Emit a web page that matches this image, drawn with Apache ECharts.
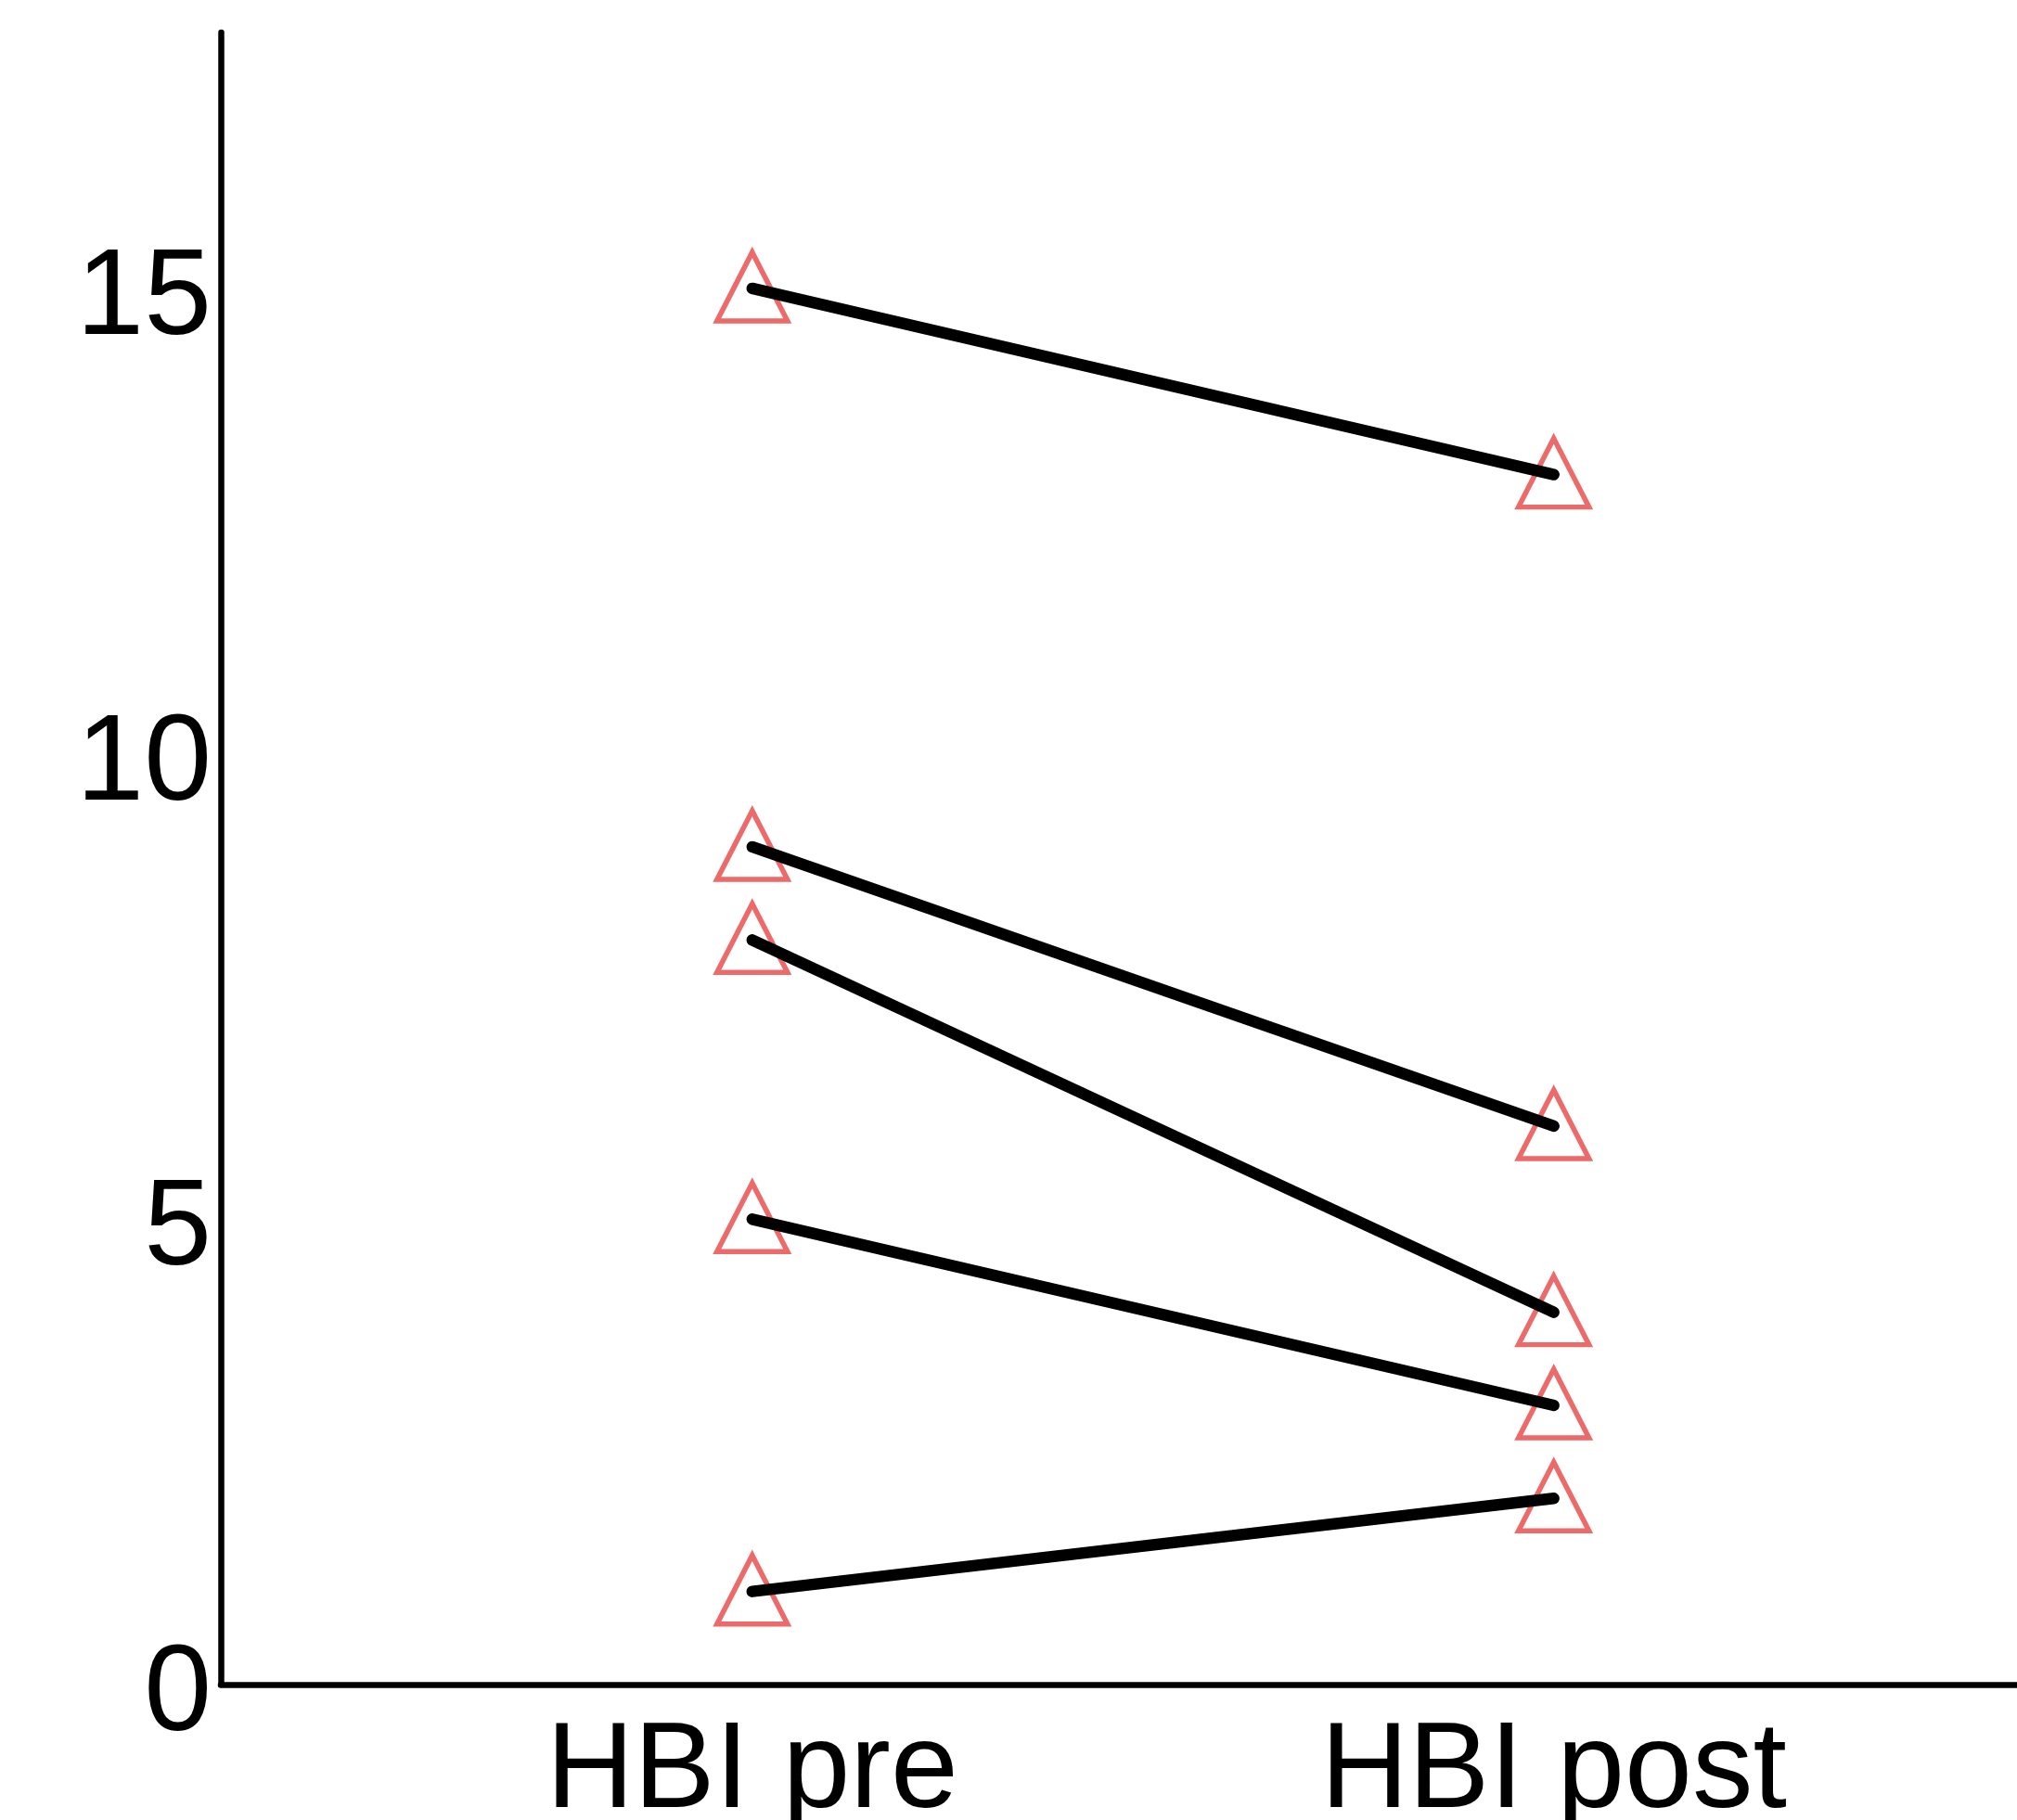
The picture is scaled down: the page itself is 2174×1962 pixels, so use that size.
<!DOCTYPE html>
<html>
<head>
  <meta charset="UTF-8">
  <script src="https://cdn.jsdelivr.net/npm/echarts@6/dist/echarts.min.js"></script>
  <style>
      html, body { margin: 0; padding: 0; background: #fff; }
      #chart { width: 2174px; height: 1962px; }
  </style>
</head>
<body>
  <div id="chart"></div>
  <script>
    // paired HBI scores, one entry per subject
    var categories = ['HBI pre', 'HBI post'];
    var preValues = [15, 9, 8, 5, 1];
    var postValues = [13, 6, 4, 3, 2];
    var yTicks = [0, 5, 10, 15];

    var FONT = 'Liberation Sans';
    var RED = '#EC6A6A';

    var series = [];
    var points = [];
    preValues.forEach(function (pre, i) {
      points.push([1, pre]);
      points.push([2, postValues[i]]);
    });
    series.push({
      type: 'scatter',
      data: points,
      symbol: 'triangle',
      symbolSize: [76, 74],
      symbolOffset: [0, -2],
      itemStyle: { color: 'rgba(0,0,0,0)', borderColor: RED, borderWidth: 5.5, opacity: 1 },
      z: 2
    });
    preValues.forEach(function (pre, i) {
      series.push({
        type: 'line',
        data: [[1, pre], [2, postValues[i]]],
        symbol: 'none',
        lineStyle: { color: '#000', width: 12.5, cap: 'round' },
        z: 3
      });
    });

    var chart = echarts.init(document.getElementById('chart'));
    chart.setOption({
      animation: false,
      backgroundColor: '#fff',
      grid: { left: 238, right: 0, top: 35, bottom: 146, containLabel: false, outerBoundsMode: 'none' },
      xAxis: {
        type: 'value',
        min: 0.337,
        max: 2.578,
        splitLine: { show: false },
        axisTick: { show: false },
        axisLine: { show: true, onZero: false, lineStyle: { color: '#000', width: 6.5 } },
        axisLabel: {
          customValues: [1, 2],
          margin: 30,
          fontFamily: FONT,
          fontSize: 131,
          color: '#000',
          formatter: function (v) { return categories[Math.round(v) - 1] || ''; }
        }
      },
      yAxis: {
        type: 'value',
        min: 0,
        max: 17.75,
        interval: 5,
        splitLine: { show: false },
        axisTick: { show: false },
        axisLine: { show: true, lineStyle: { color: '#000', width: 6.5 } },
        axisLabel: {
          customValues: yTicks,
          margin: 10,
          verticalAlign: 'top',
          lineHeight: 26,
          fontFamily: FONT,
          fontSize: 131,
          color: '#000',
          formatter: function (v) { return yTicks.indexOf(v) >= 0 ? String(v) : ''; }
        }
      },
      series: series
    });
  </script>
</body>
</html>
